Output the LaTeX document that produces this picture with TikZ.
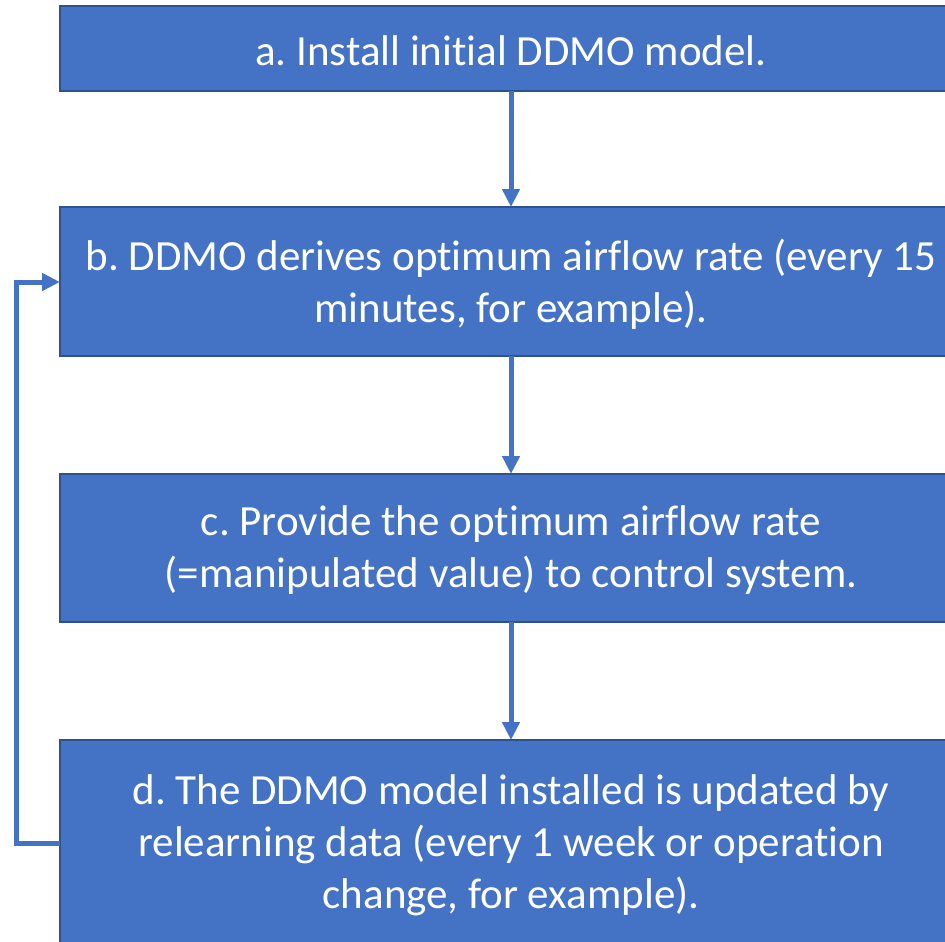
\documentclass[tikz,border=0pt]{standalone}
\usepackage{fontspec}
\setmainfont[Ligatures=NoCommon]{Carlito}
\usetikzlibrary{arrows.meta}
\definecolor{boxfill}{HTML}{4472C4}
\definecolor{boxedge}{HTML}{2F528F}
\tikzset{
  stepbox/.style={draw=boxedge, line width=2.5pt, fill=boxfill},
  steptext/.style={text=white, align=center, inner sep=0pt,
    font=\frenchspacing\fontsize{43}{52}\selectfont},
  flow/.style={draw=boxfill, line width=5pt,
    -{Triangle[width=17pt,length=18pt]}},
}
\begin{document}
\begin{tikzpicture}[x=1pt,y=-1pt]
\useasboundingbox (0,0) rectangle (945,942);
\clip (0,0) rectangle (945,942);
% process boxes (they run past the right edge)
\path[stepbox] (60,6) rectangle (962,91);
\node[steptext] (a) at (511,50.5) {a. Install initial DDMO model.};
\path[stepbox] (60,207) rectangle (962,356);
\node[steptext] (b) at (511,284) {b. DDMO derives optimum airflow rate (every 15\\minutes, for example).};
\path[stepbox] (60,474) rectangle (962,622);
\node[steptext] (c) at (511,550) {c. Provide the optimum airflow rate\\(=manipulated value) to control system.};
\path[stepbox] (60,740) rectangle (962,946);
\node[steptext] (d) at (511,845) {d. The DDMO model installed is updated by\\relearning data (every 1 week or operation\\change, for example).};
% edge anchors
\coordinate (aB) at (511,91);
\coordinate (bT) at (511,207);
\coordinate (bB) at (511,356);
\coordinate (cT) at (511,474);
\coordinate (cB) at (511,622);
\coordinate (dT) at (511,740);
\coordinate (dL) at (60,843);
\coordinate (bL) at (60,282);
% connectors
\draw[flow] (aB) -- (bT);
\draw[flow] (bB) -- (cT);
\draw[flow] (cB) -- (dT);
\draw[flow] (dL) -| (16,282) -- (bL);
\end{tikzpicture}
\end{document}
